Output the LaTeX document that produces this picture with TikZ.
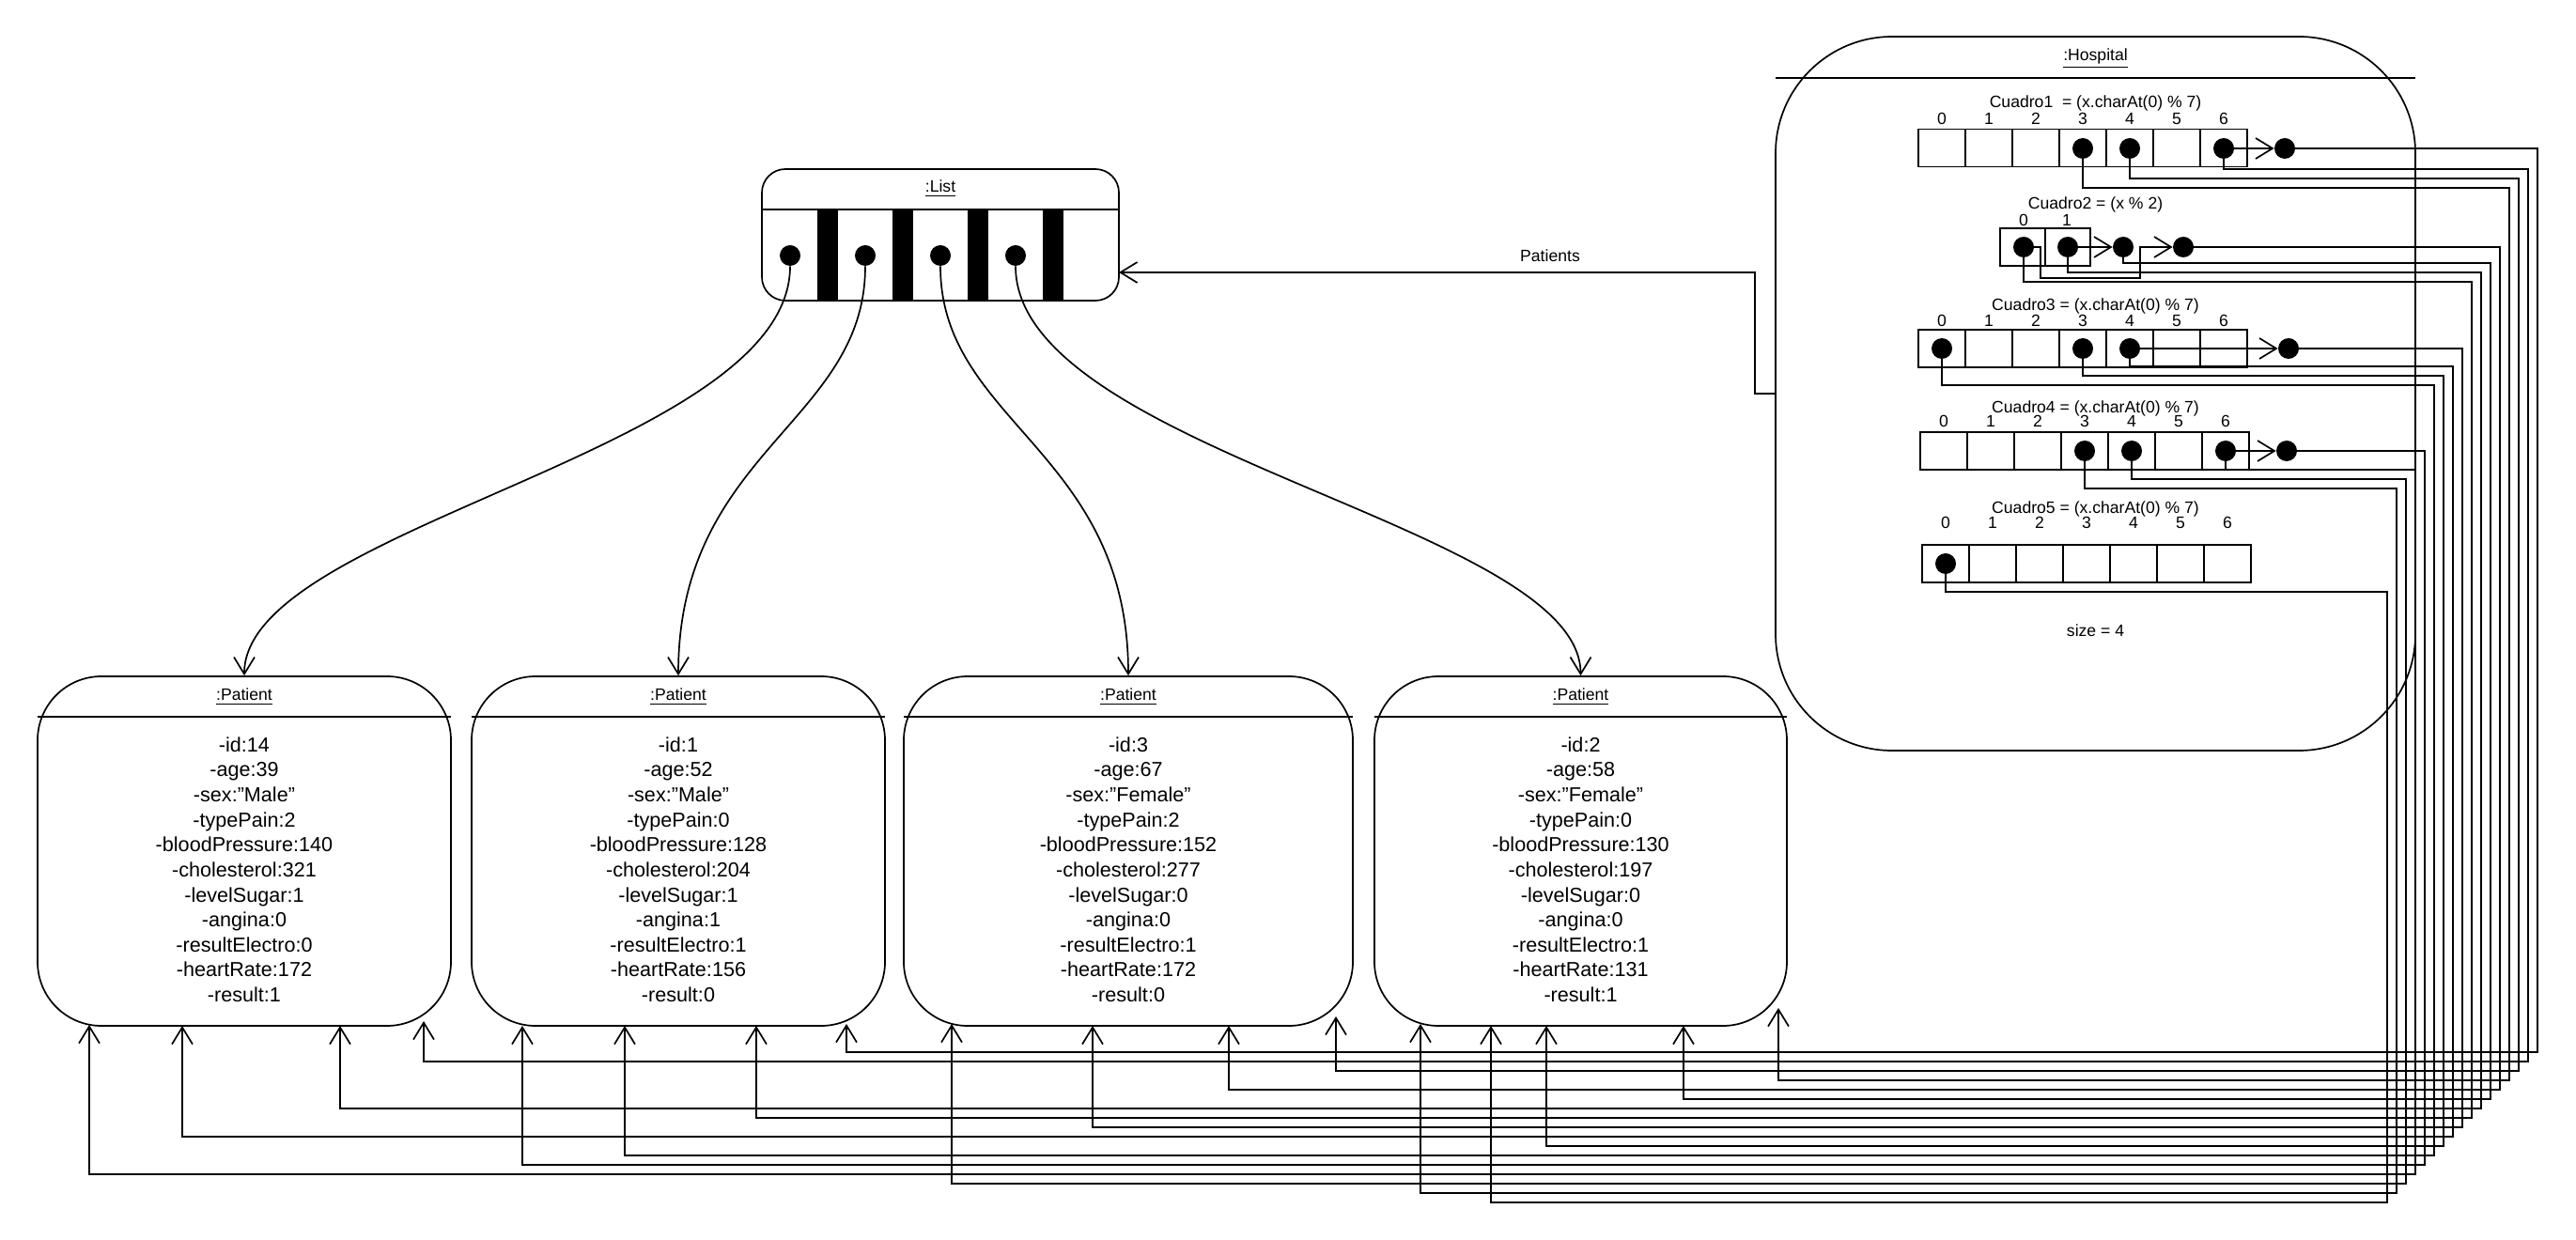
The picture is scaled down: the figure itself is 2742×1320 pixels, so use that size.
\documentclass[tikz,border=0pt]{standalone}
\usepackage{fontspec}
\setmainfont{Liberation Sans}
\usetikzlibrary{arrows.meta}
\begin{document}
\begin{tikzpicture}[x=0.5pt,y=-0.5pt,
  ln/.style={draw,line width=0.85pt},
  arr/.style={ln,-{Straight Barb[length=9pt,width=11pt]}},
  dotn/.style={circle,fill=black,inner sep=0pt,minimum size=11pt},
  cellb/.style={draw,line width=0.85pt,inner sep=0pt,minimum width=25pt,minimum height=20pt},
  cellc/.style={draw,line width=0.85pt,inner sep=0pt,minimum width=24pt,minimum height=20pt},
  ttl/.style={inner sep=0pt,font=\fontsize{8.8}{10.5}\selectfont},
  lbl/.style={inner sep=0pt,anchor=base,font=\fontsize{8.8}{10.5}\selectfont},
  pbox/.style={draw,line width=0.85pt,rounded corners=34pt,minimum height=186pt,inner sep=0pt},
  attr/.style={inner sep=0pt,anchor=north,align=center,font=\fontsize{10.8}{13.33}\selectfont}]
\useasboundingbox (0,0) rectangle (2742,1320);

% ---------------- Hospital ----------------
\node[draw,line width=0.85pt,rounded corners=62pt,minimum width=340.5pt,minimum height=380pt,inner sep=0pt] (hosp) at (2230.5,419) {};
\draw[ln] (1890,83) -- (2571,83);
\node[ttl,anchor=base] (hospt) at (2230.5,65) {\underline{:Hospital}};

% Cuadro1
\node[ttl,anchor=base] (c1t) at (2230.5,115) {Cuadro1\ \ = (x.charAt(0) \% 7)};
\foreach \i in {0,...,6} {
  \node[lbl] (c1n\i) at (2067+50*\i,133) {\i};
  \node[cellb] (c1c\i) at (2067+50*\i,157.5) {};
}
\node[dotn] (c1d3) at (2217,158) {};
\node[dotn] (c1d4) at (2267,158) {};
\node[dotn] (c1d6) at (2367,158) {};
\node[dotn] (c1x) at (2432,158) {};
\draw[arr] (c1d6.center) -- (c1x.west);

% Cuadro2
\node[ttl,anchor=base] (c2t) at (2230.5,223) {Cuadro2 = (x \% 2)};
\node[lbl] (c2n0) at (2154,241) {0};
\node[lbl] (c2n1) at (2200,241) {1};
\node[cellc] (c2c0) at (2153,263) {};
\node[cellc] (c2c1) at (2201,263) {};
\node[dotn] (c2d0) at (2154,263) {};
\node[dotn] (c2d1) at (2201,263) {};
\node[dotn] (c2x1) at (2260,263) {};
\node[dotn] (c2x2) at (2324,263) {};
\draw[arr] (c2d1.center) -- (c2x1.west);
\draw[arr] (c2d0.center) -- (2172,263) -- (2172,296) -- (2278,296) -- (2278,263) -- (c2x2.west);

% Cuadro3
\node[ttl,anchor=base] (c3t) at (2230.5,331) {Cuadro3 = (x.charAt(0) \% 7)};
\foreach \i in {0,...,6} {
  \node[lbl] (c3n\i) at (2067+50*\i,348) {\i};
  \node[cellb] (c3c\i) at (2067+50*\i,371) {};
}
\node[dotn] (c3d0) at (2067,371) {};
\node[dotn] (c3d3) at (2217,371) {};
\node[dotn] (c3d4) at (2267,371) {};
\node[dotn] (c3x) at (2436,371) {};
\draw[arr] (c3d4.center) -- (c3x.west);

% Cuadro4
\node[ttl,anchor=base] (c4t) at (2230.5,440) {Cuadro4 = (x.charAt(0) \% 7)};
\foreach \i in {0,...,6} {
  \node[lbl] (c4n\i) at (2069+50*\i,455) {\i};
  \node[cellb] (c4c\i) at (2069+50*\i,480) {};
}
\node[dotn] (c4d3) at (2219,480) {};
\node[dotn] (c4d4) at (2269,480) {};
\node[dotn] (c4d6) at (2369,480) {};
\node[dotn] (c4x) at (2434,480) {};
\draw[arr] (c4d6.center) -- (c4x.west);

% Cuadro5
\node[ttl,anchor=base] (c5t) at (2230.5,547) {Cuadro5 = (x.charAt(0) \% 7)};
\foreach \i in {0,...,6} {
  \node[lbl] (c5n\i) at (2071+50*\i,563) {\i};
  \node[cellb] (c5c\i) at (2071+50*\i,600) {};
}
\node[dotn] (c5d0) at (2071,600) {};

\node[lbl] (size) at (2230.5,677) {size = 4};

% ---------------- List ----------------
\fill (870,223) rectangle (892,320);
\fill (950,223) rectangle (972,320);
\fill (1030,223) rectangle (1052,320);
\fill (1110,223) rectangle (1132,320);
\node[draw,line width=0.85pt,rounded corners=12.5pt,minimum width=190pt,minimum height=70pt,inner sep=0pt] (list) at (1001,250) {};
\draw[ln] (811,223) -- (1191,223);
\node[ttl,anchor=base] (listt) at (1001,205) {\underline{:List}};
\node[dotn] (l1) at (841,272) {};
\node[dotn] (l2) at (921,272) {};
\node[dotn] (l3) at (1001,272) {};
\node[dotn] (l4) at (1081,272) {};
\coordinate (listin) at (1191,290);

% ---------------- Patients ----------------
\node[pbox,minimum width=220pt] (p1) at (260,906) {};
\node[pbox,minimum width=220pt] (p2) at (722,906) {};
\node[pbox,minimum width=239pt] (p3) at (1201,906) {};
\node[pbox,minimum width=219.5pt] (p4) at (1682.5,906) {};
\draw[ln] (40,763) -- (480,763);
\draw[ln] (502,763) -- (942,763);
\draw[ln] (962,763) -- (1440,763);
\draw[ln] (1463,763) -- (1902,763);
\node[ttl,anchor=base] (p1t) at (260,746) {\underline{:Patient}};
\node[ttl,anchor=base] (p2t) at (722,746) {\underline{:Patient}};
\node[ttl,anchor=base] (p3t) at (1201,746) {\underline{:Patient}};
\node[ttl,anchor=base] (p4t) at (1682.5,746) {\underline{:Patient}};
\node[attr] (p1a) at (260,784) {-id:14\\-age:39\\-sex:"Male"\\-typePain:2\\-bloodPressure:140\\-cholesterol:321\\-levelSugar:1\\-angina:0\\-resultElectro:0\\-heartRate:172\\-result:1};
\node[attr] (p2a) at (722,784) {-id:1\\-age:52\\-sex:"Male"\\-typePain:0\\-bloodPressure:128\\-cholesterol:204\\-levelSugar:1\\-angina:1\\-resultElectro:1\\-heartRate:156\\-result:0};
\node[attr] (p3a) at (1201,784) {-id:3\\-age:67\\-sex:"Female"\\-typePain:2\\-bloodPressure:152\\-cholesterol:277\\-levelSugar:0\\-angina:0\\-resultElectro:1\\-heartRate:172\\-result:0};
\node[attr] (p4a) at (1682.5,784) {-id:2\\-age:58\\-sex:"Female"\\-typePain:0\\-bloodPressure:130\\-cholesterol:197\\-levelSugar:0\\-angina:0\\-resultElectro:1\\-heartRate:131\\-result:1};

% list -> patients
\draw[arr] (l1.south) .. controls (841,480) and (260,560) .. (p1.north);
\draw[arr] (l2.south) .. controls (921,450) and (722,480) .. (p2.north);
\draw[arr] (l3.south) .. controls (1001,450) and (1201,480) .. (p3.north);
\draw[arr] (l4.south) .. controls (1081,480) and (1682.5,560) .. (p4.north);

% hospital -> list
\draw[arr] (hosp.west) -- (1868,419) |- (listin);
\node[lbl] (plab) at (1650,279) {Patients};

% hospital tables -> patients
\draw[arr] (c1x.east) -- (2701,158) -- (2701,1120) -| (901,1090);
\draw[arr] (c1d6.center) |- (2691,180) -- (2691,1130) -| (451,1087);
\draw[arr] (c1d4.center) |- (2681,190) -- (2681,1140) -| (1422,1082);
\draw[arr] (c1d3.center) |- (2671,200) -- (2671,1150) -| (1893,1073);
\draw[arr] (c2x2.east) -- (2661,263) -- (2661,1160) -| (1308,1092);
\draw[arr] (c2x1.center) |- (2651,280) -- (2651,1170) -| (1792,1092);
\draw[arr] (c2d1.center) |- (2641,290) -- (2641,1180) -| (362,1092);
\draw[arr] (c2d0.center) |- (2631,300) -- (2631,1190) -| (805,1092);
\draw[arr] (c3x.east) -- (2621,371) -- (2621,1200) -| (1163,1092);
\draw[arr] (c3d4.center) |- (2611,390) -- (2611,1210) -| (194,1092);
\draw[arr] (c3d3.center) |- (2601,400) -- (2601,1220) -| (1646,1092);
\draw[arr] (c3d0.center) |- (2591,410) -- (2591,1230) -| (665,1092);
\draw[arr] (c4x.east) -- (2581,480) -- (2581,1240) -| (556,1092);
\draw[arr] (c4d6.center) |- (2571,500) -- (2571,1250) -| (95,1091);
\draw[arr] (c4d4.center) |- (2561,510) -- (2561,1260) -| (1013,1090);
\draw[arr] (c4d3.center) |- (2551,520) -- (2551,1270) -| (1512,1090);
\draw[arr] (c5d0.center) |- (2541,630) -- (2541,1280) -| (1587,1092);
\end{tikzpicture}
\end{document}
